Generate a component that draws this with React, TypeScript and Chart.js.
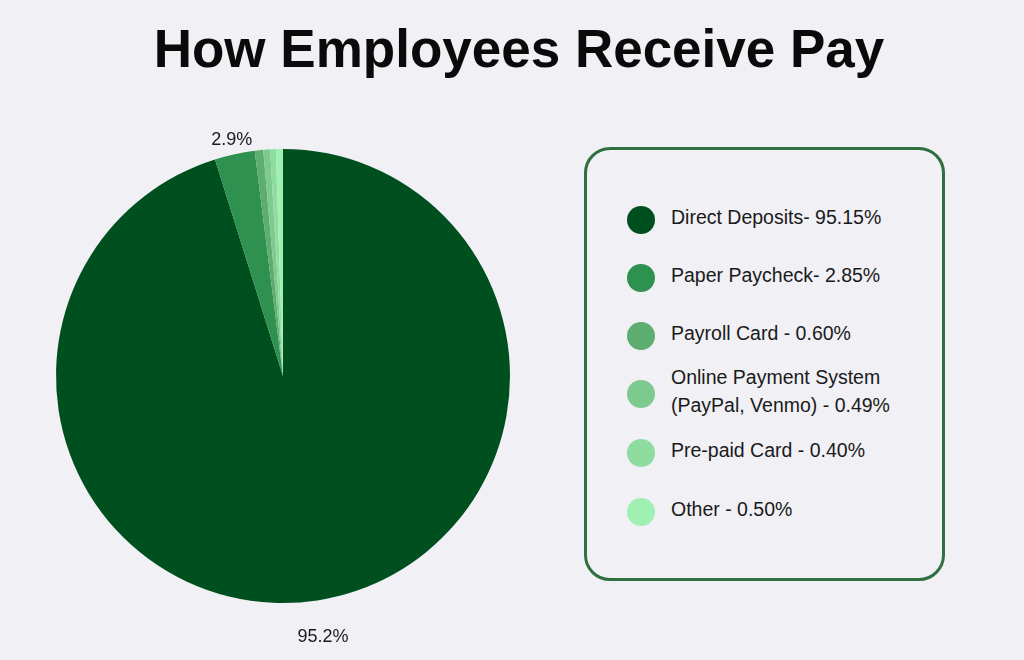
import { useEffect, useRef } from "react"
import { Chart, registerables } from "chart.js"

Chart.register(...registerables)

const categories = [
  "Direct Deposits",
  "Paper Paycheck",
  "Payroll Card",
  "Online Payment System (PayPal, Venmo)",
  "Pre-paid Card",
  "Other",
]
const shares = [95.15, 2.85, 0.6, 0.49, 0.4, 0.5]
const legendLines = [
  ["Direct Deposits- 95.15%"],
  ["Paper Paycheck- 2.85%"],
  ["Payroll Card - 0.60%"],
  ["Online Payment System", "(PayPal, Venmo) - 0.49%"],
  ["Pre-paid Card - 0.40%"],
  ["Other - 0.50%"],
]
const colors = ["#00501f", "#2e9150", "#5dac70", "#7dca8f", "#8edd9f", "#9ff0b1"]

const FONT = '"Liberation Sans", Arial, Helvetica, sans-serif'

// draws percentage labels outside the bigger slices
const outsideLabels = {
  id: "outsideLabels",
  afterDatasetsDraw(chart: any) {
    const ctx = chart.ctx
    const meta = chart.getDatasetMeta(0)
    const data = chart.data.datasets[0].data as number[]
    const total = data.reduce((a, b) => a + b, 0)
    ctx.save()
    ctx.font = `18px ${FONT}`
    ctx.fillStyle = "#1a1a1a"
    ctx.textAlign = "center"
    ctx.textBaseline = "middle"
    meta.data.forEach((arc: any, i: number) => {
      const pct = (data[i] / total) * 100
      if (pct < 1) return
      const mid = (arc.startAngle + arc.endAngle) / 2
      const dx = Math.cos(mid)
      const dy = Math.sin(mid)
      const dist = arc.outerRadius + 14 + (dy > 0 ? 23 * dy : 0)
      ctx.fillText(`${pct.toFixed(1)}%`, arc.x + dx * dist, arc.y + dy * dist)
    })
    ctx.restore()
  },
}

export default function App() {
  const chartRef = useRef<HTMLCanvasElement>(null)
  const chartInstance = useRef<Chart | null>(null)

  useEffect(() => {
    if (!chartRef.current) return
    if (chartInstance.current) chartInstance.current.destroy()

    chartInstance.current = new Chart(chartRef.current, {
      type: "pie",
      data: {
        labels: categories,
        datasets: [
          {
            data: shares,
            backgroundColor: colors,
            borderWidth: 0,
          },
        ],
      },
      options: {
        animation: false,
        responsive: true,
        maintainAspectRatio: false,
        layout: { padding: { left: 33, right: 33, top: 49, bottom: 57 } },
        plugins: {
          legend: { display: false },
          tooltip: { enabled: false },
        },
      },
      plugins: [outsideLabels],
    })

    return () => {
      if (chartInstance.current) {
        chartInstance.current.destroy()
        chartInstance.current = null
      }
    }
  }, [])

  return (
    <div
      style={{
        position: "fixed",
        left: 0,
        top: 0,
        width: 1024,
        height: 660,
        background: "#f0f0f5",
        fontFamily: FONT,
        overflow: "hidden",
      }}
    >
      <div
        style={{
          position: "absolute",
          left: 14,
          top: 17,
          width: 1010,
          textAlign: "center",
          fontSize: 53,
          fontWeight: "bold",
          color: "#0a0a0a",
          lineHeight: "64px",
        }}
      >
        How Employees Receive Pay
      </div>
      <div style={{ position: "absolute", left: 23, top: 100, width: 520, height: 560 }}>
        <canvas ref={chartRef} />
      </div>
      <div
        style={{
          position: "absolute",
          left: 584,
          top: 147,
          width: 355,
          height: 428,
          border: "3px solid #2f6f40",
          borderRadius: 26,
        }}
      >
        {legendLines.map((lines, i) => {
          const top = [70, 128, 186, 244, 303, 362][i]
          return (
            <div
              key={categories[i]}
              style={{
                position: "absolute",
                left: 40,
                top: top - 14,
                height: 28,
                display: "flex",
                alignItems: "center",
              }}
            >
              <div
                style={{
                  width: 28,
                  height: 28,
                  borderRadius: "50%",
                  background: colors[i],
                  flex: "none",
                }}
              />
              <div
                style={{
                  marginLeft: 16,
                  fontSize: 19.5,
                  lineHeight: "28px",
                  color: "#1a1a1a",
                  whiteSpace: "nowrap",
                  marginTop: lines.length > 1 ? -6 : -7,
                }}
              >
                {lines.map((l) => (
                  <div key={l}>{l}</div>
                ))}
              </div>
            </div>
          )
        })}
      </div>
    </div>
  )
}
